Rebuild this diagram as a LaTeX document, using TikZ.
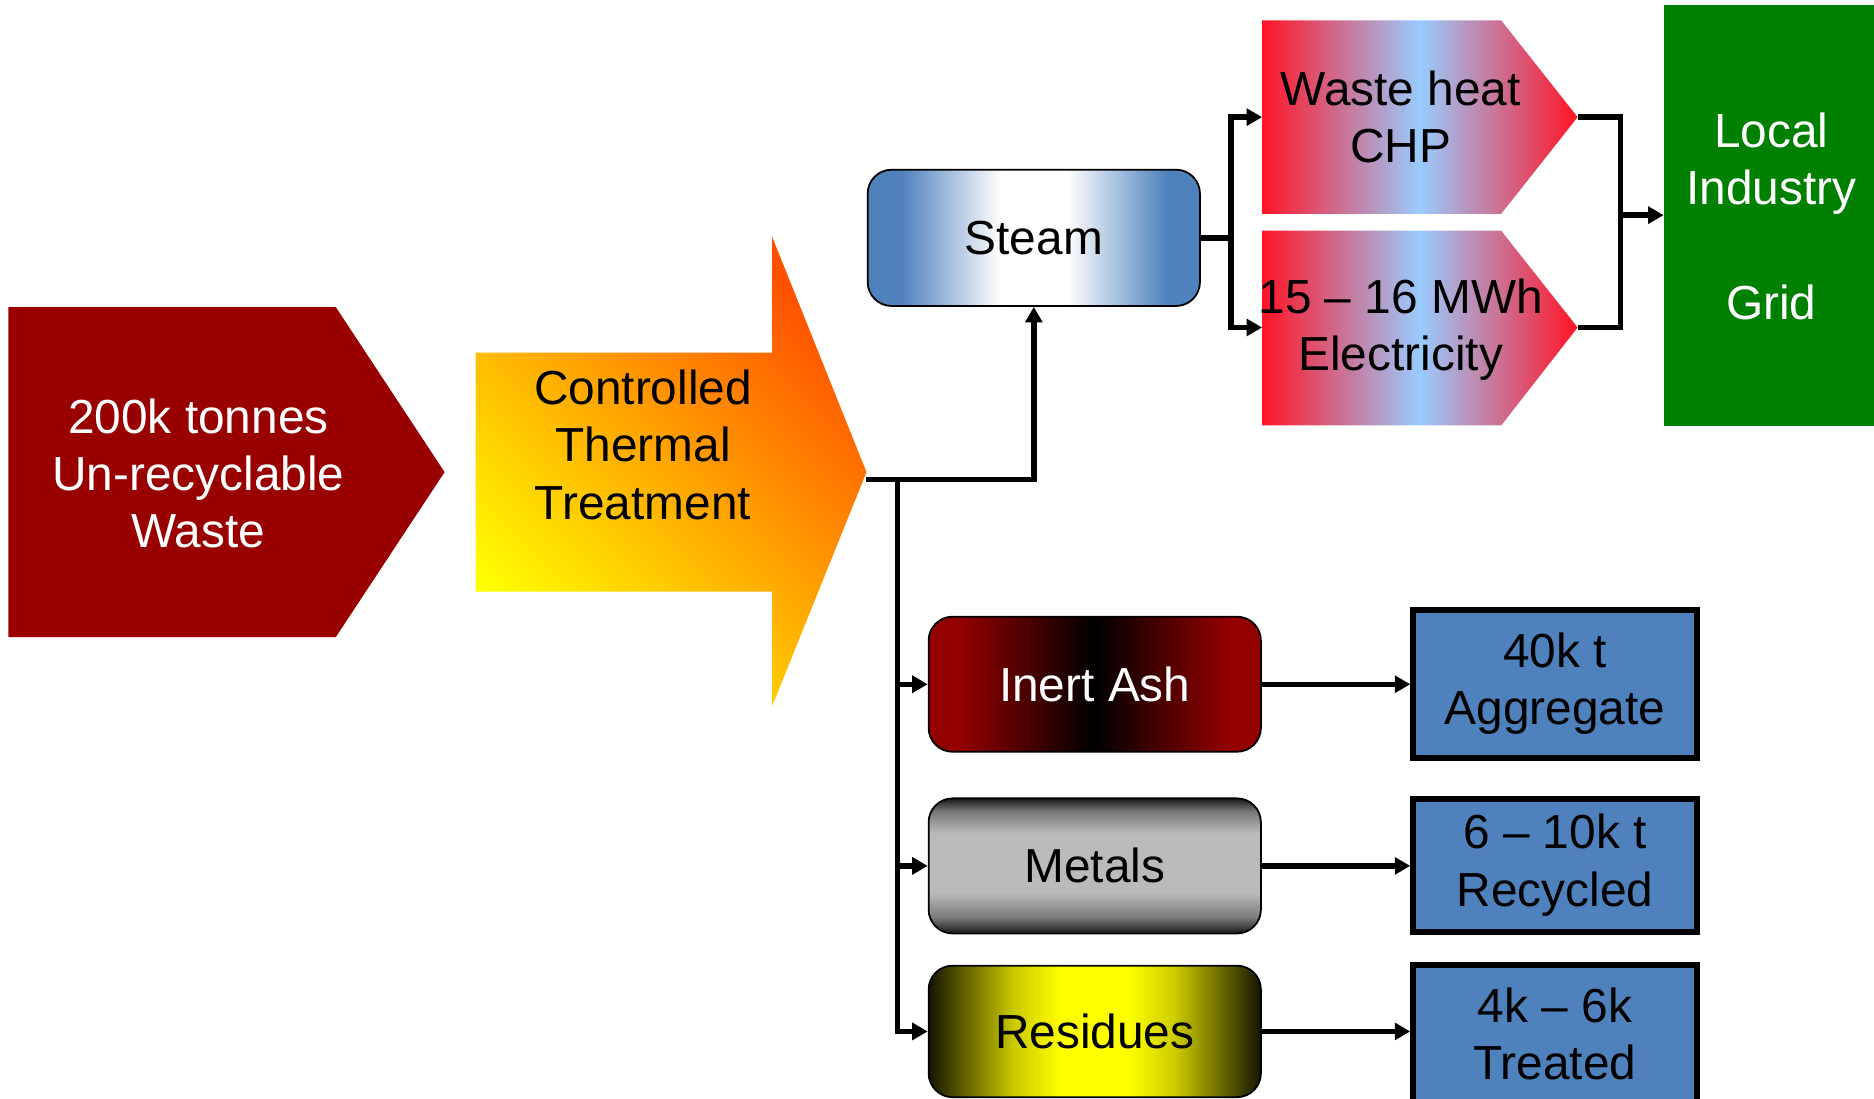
\documentclass[tikz,border=0pt]{standalone}
\usepackage{fontspec}
\setmainfont{Liberation Sans}
\usetikzlibrary{arrows.meta}
\definecolor{wastered}{RGB}{153,0,0}
\definecolor{stblue}{RGB}{79,129,189}
\definecolor{ashred}{RGB}{146,0,0}
\definecolor{mA}{RGB}{26,26,26}
\definecolor{mB}{RGB}{122,122,122}
\definecolor{mC}{RGB}{186,186,186}
\definecolor{rA}{RGB}{21,21,0}
\definecolor{rB}{RGB}{106,106,0}
\definecolor{rC}{RGB}{204,204,0}
\definecolor{rD}{RGB}{255,255,0}
\definecolor{hotred}{RGB}{255,20,38}
\definecolor{skyblue}{RGB}{153,204,255}
\definecolor{grn}{RGB}{0,128,0}
\definecolor{boxblue}{RGB}{79,129,189}
\definecolor{cttyel}{RGB}{255,255,0}
\definecolor{cttred}{RGB}{255,80,0}
\pgfdeclarehorizontalshading{steamsh}{100bp}{color(0bp)=(stblue); color(30bp)=(stblue); color(45bp)=(white); color(55bp)=(white); color(70bp)=(stblue); color(100bp)=(stblue)}
\pgfdeclarehorizontalshading{ashsh}{100bp}{color(0bp)=(ashred); color(30bp)=(ashred); color(50bp)=(black); color(70bp)=(ashred); color(100bp)=(ashred)}
\pgfdeclareverticalshading{metsh}{100bp}{color(0bp)=(mA); color(25bp)=(mA); color(31bp)=(mB); color(40bp)=(mC); color(62bp)=(mC); color(70bp)=(mB); color(75bp)=(mA); color(100bp)=(mA)}
\pgfdeclarehorizontalshading{ressh}{100bp}{color(0bp)=(rA); color(25bp)=(rA); color(31bp)=(rB); color(38bp)=(rC); color(45bp)=(rD); color(55bp)=(rD); color(62bp)=(rC); color(69bp)=(rB); color(75bp)=(rA); color(100bp)=(rA)}
\begin{document}
\begin{tikzpicture}[x=1pt,y=-1pt,
  txt/.style={font=\fontsize{40}{48}\selectfont, align=center, inner sep=0pt},
  rbox/.style={draw=black, line width=1.5pt, rounded corners=20pt, minimum width=278pt, minimum height=113pt, inner sep=0pt, font=\fontsize{40}{48}\selectfont, align=center},
  bbox/.style={draw=black, line width=5pt, fill=boxblue, minimum width=237pt, inner sep=0pt, font=\fontsize{40}{48}\selectfont, align=center},
  conn/.style={line width=4.5pt, draw=black, line join=miter},
  arr/.style={conn, -{Triangle[length=13pt,width=14pt]}}]
\useasboundingbox (0,0) rectangle (1568,919);
\clip (0,0) rectangle (1568,919);

% input waste arrow
\fill[wastered] (7,257) -- (281,257) -- (372,395) -- (281,533) -- (7,533) -- cycle;
\node[txt, text=white] (waste) at (166,396) {200k tonnes\\Un-recyclable\\Waste};

% controlled thermal treatment arrow
\shade[bottom color=cttyel, top color=cttred, shading angle=-45]
  (398,295) -- (646,295) -- (646,198) -- (725,395) -- (646,591) -- (646,495) -- (398,495) -- cycle;
\node[txt] (ctt) at (538,372) {Controlled\\Thermal\\Treatment};
\coordinate (cttout) at (725,401);
\coordinate (bus) at (751,401);

% steam
\node[rbox, shading=steamsh, minimum height=114pt] (steam) at (865,199) {Steam};

% CHP and electricity
\shade[left color=hotred, right color=hotred, middle color=skyblue]
  (1056,17) -- (1256,17) -- (1320,98) -- (1256,179) -- (1056,179) -- cycle;
\node[txt] (chp) at (1172,98) {Waste heat\\CHP};
\shade[left color=hotred, right color=hotred, middle color=skyblue]
  (1056,193) -- (1256,193) -- (1320,274) -- (1256,356) -- (1056,356) -- cycle;
\node[txt] (elec) at (1172,276) {15 -- 16 MWh\\Electricity};
\coordinate (chpin) at (1056,98);
\coordinate (elecin) at (1056,274);
\coordinate (chpout) at (1320,98);
\coordinate (elecout) at (1320,274);

% local industry / grid
\node[fill=grn, minimum width=190pt, minimum height=352pt, anchor=north west, inner sep=0pt] (grid) at (1392,4) {};
\node[txt, text=white] (gridtxt) at (1482,181) {Local\\Industry\\\mbox{}\\Grid};

% residues boxes
\node[rbox, shading=ashsh, text=white] (ash) at (916,572.5) {Inert Ash};
\node[rbox, shading=metsh] (met) at (916,724.5) {Metals};
\node[rbox, shading=ressh, minimum height=110pt] (res) at (916,863) {Residues};

% output boxes
\node[bbox, minimum height=124pt] (agg) at (1301,572) {40k t\\Aggregate};
\node[bbox, minimum height=111pt] (rec) at (1301,724) {6 -- 10k t\\Recycled};
\node[bbox, minimum height=115pt] (trt) at (1301,865) {4k -- 6k\\Treated};

% connectors
\draw[arr] (cttout) -| (steam.south);
\draw[arr] (bus) |- (res.west);
\draw[arr] (bus |- ash.west) -- (ash.west);
\draw[arr] (bus |- met.west) -- (met.west);
\draw[conn] (steam.east) -- (1030,199) coordinate (sj);
\draw[arr] (sj) |- (chpin);
\draw[arr] (sj) |- (elecin);
\draw[conn] (chpout) -- (1356,98) -- (1356,274) -- (elecout);
\coordinate (oj) at (1356,180);
\draw[arr] (oj) -- (grid.west |- oj);
\draw[arr] (ash.east) -- (agg.west |- ash.east);
\draw[arr] (met.east) -- (rec.west |- met.east);
\draw[arr] (res.east) -- (trt.west |- res.east);
\end{tikzpicture}
\end{document}
